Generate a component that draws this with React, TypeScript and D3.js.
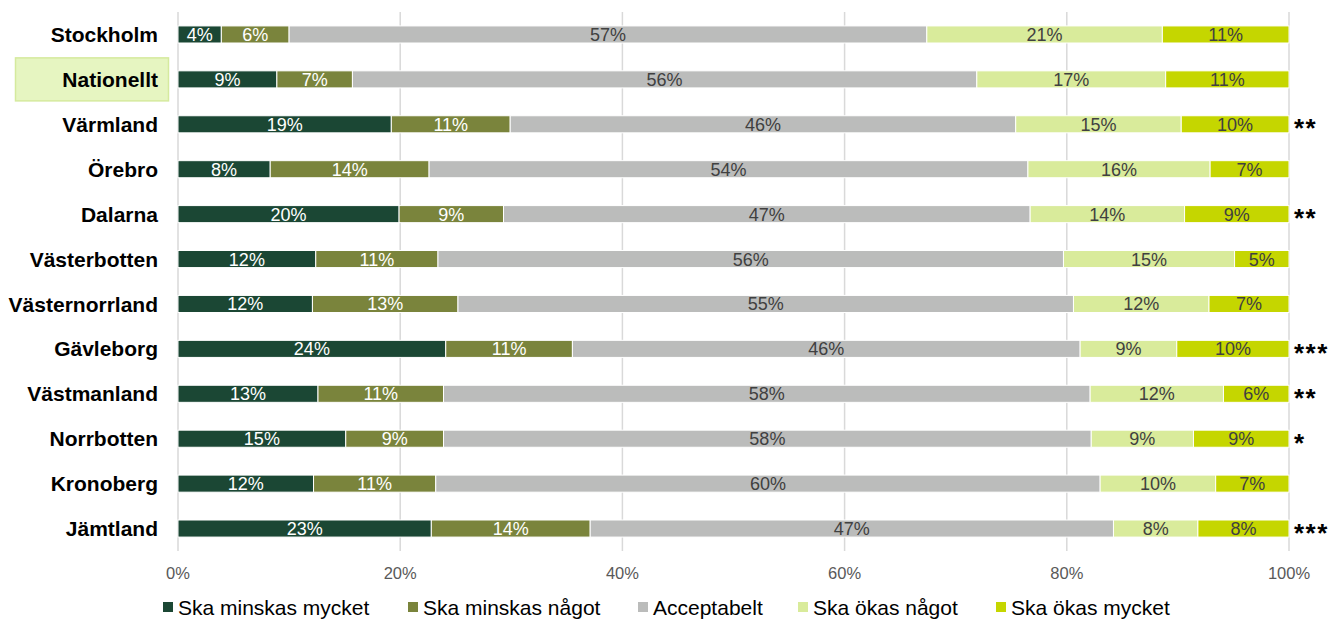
import * as d3 from "d3";

const regions = [
  "Stockholm",
  "Nationellt",
  "Värmland",
  "Örebro",
  "Dalarna",
  "Västerbotten",
  "Västernorrland",
  "Gävleborg",
  "Västmanland",
  "Norrbotten",
  "Kronoberg",
  "Jämtland",
];

const seriesNames = [
  "Ska minskas mycket",
  "Ska minskas något",
  "Acceptabelt",
  "Ska ökas något",
  "Ska ökas mycket",
];

// shares in percent, one list per answer
const minskasMycket = [3.9, 8.9, 19.2, 8.3, 19.9, 12.4, 12.1, 24.1, 12.6, 15.1, 12.2, 22.8];
const minskasNagot = [6.1, 6.8, 10.7, 14.3, 9.4, 11.0, 13.1, 11.4, 11.3, 8.8, 11.0, 14.3];
const acceptabelt = [57.4, 56.2, 45.5, 53.9, 47.4, 56.3, 55.4, 45.7, 58.2, 58.3, 59.8, 47.1];
const okasNagot = [21.2, 17.0, 14.9, 16.4, 13.9, 15.4, 12.2, 8.7, 12.0, 9.2, 10.4, 7.6];
const okasMycket = [11.4, 11.1, 9.7, 7.1, 9.4, 4.9, 7.2, 10.1, 5.9, 8.6, 6.6, 8.2];

const significance = ["", "", "**", "", "**", "", "", "***", "**", "*", "", "***"];
const ticks = [0, 20, 40, 60, 80, 100];

const colors = ["#1b4734", "#7a843c", "#bbbcbb", "#d9eb9b", "#c5d600"];
const textColors = ["#ffffff", "#ffffff", "#404040", "#404040", "#404040"];

const WIDTH = 1344;
const HEIGHT = 619;
const PLOT_LEFT = 178;
const PLOT_RIGHT = 1289;
const PLOT_TOP = 12;
const PLOT_BOTTOM = 551;
const FONT = "'Liberation Sans', Arial, sans-serif";

const legendX = [163, 408, 638, 798, 996];

export default function App() {
  const rows = regions.map((r, i) => ({
    region: r,
    values: [minskasMycket[i], minskasNagot[i], acceptabelt[i], okasNagot[i], okasMycket[i]],
  }));

  const x = d3.scaleLinear().domain([0, 100]).range([PLOT_LEFT, PLOT_RIGHT]);
  const y = d3
    .scaleBand()
    .domain(regions)
    .range([PLOT_TOP, PLOT_BOTTOM])
    .paddingInner(0.62)
    .paddingOuter(0.31);

  const stack = d3
    .stack<any>()
    .keys(seriesNames.map((_, k) => String(k)))
    .value((d, key) => d.values[+key]);
  const layers = stack(rows);

  const natY = y("Nationellt")! + y.bandwidth() / 2;

  return (
    <svg
      width={WIDTH}
      height={HEIGHT}
      style={{ position: "absolute", left: 0, top: 0, background: "#fff" }}
      fontFamily={FONT}
    >
      {/* gridlines */}
      {ticks.map((t) => (
        <line
          key={t}
          x1={x(t)}
          x2={x(t)}
          y1={PLOT_TOP}
          y2={PLOT_BOTTOM}
          stroke="#d9d9d9"
          strokeWidth={1.5}
        />
      ))}

      {/* highlight box behind Nationellt */}
      <rect x={15.5} y={natY - 21.5} width={153} height={43} fill="#e6f5c1" stroke="#d5ea9e" strokeWidth={1.5} />

      {layers.map((layer, k) => (
        <g key={k}>
          {layer.map((d, i) => {
            const x0 = x(d[0]);
            const x1 = x(d[1]);
            const yy = y(regions[i])!;
            const v = d[1] - d[0];
            return (
              <g key={i}>
                <rect
                  x={x0}
                  y={yy}
                  width={x1 - x0}
                  height={y.bandwidth()}
                  fill={colors[k]}
                  stroke="#ffffff"
                  strokeWidth={1}
                />
                <text
                  x={(x0 + x1) / 2}
                  y={yy + y.bandwidth() / 2}
                  dy="0.36em"
                  textAnchor="middle"
                  fontSize={18}
                  fill={textColors[k]}
                >
                  {`${Math.round(v)}%`}
                </text>
              </g>
            );
          })}
        </g>
      ))}

      {/* category labels */}
      {regions.map((r) => (
        <text
          key={r}
          x={158}
          y={y(r)! + y.bandwidth() / 2}
          dy="0.36em"
          textAnchor="end"
          fontSize={21}
          fontWeight="bold"
          fill="#000"
        >
          {r}
        </text>
      ))}

      {/* significance stars */}
      {regions.map((r, i) => (
        <text
          key={r}
          x={1294}
          y={y(r)! + y.bandwidth() / 2}
          dy="0.5em"
          fontSize={26}
          fontWeight="bold"
          letterSpacing={1.5}
          fill="#000"
        >
          {significance[i]}
        </text>
      ))}

      {/* x axis tick labels */}
      {ticks.map((t) => (
        <text key={t} x={x(t)} y={579} textAnchor="middle" fontSize={16.5} fill="#595959">
          {`${t}%`}
        </text>
      ))}

      {/* legend */}
      {seriesNames.map((s, k) => (
        <g key={s} transform={`translate(${legendX[k]},607)`}>
          <rect x={0} y={-5} width={10} height={10} fill={colors[k]} />
          <text x={15} y={0} dy="0.36em" fontSize={21} fill="#000">
            {s}
          </text>
        </g>
      ))}
    </svg>
  );
}
